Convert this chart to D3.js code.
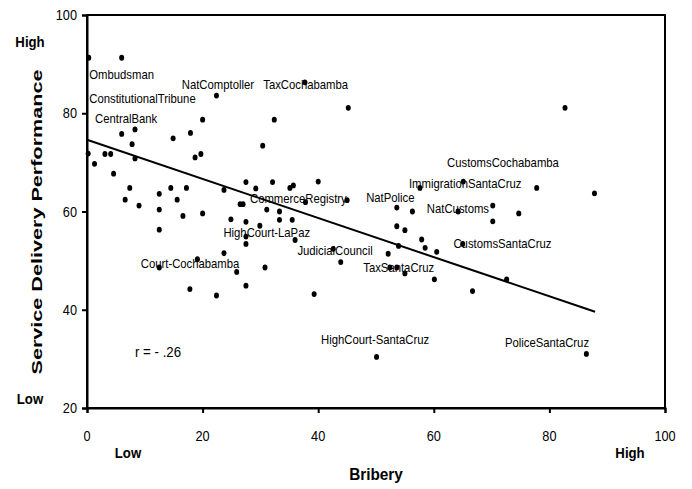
<!DOCTYPE html>
<html><head><meta charset="utf-8">
<script src="https://cdn.jsdelivr.net/npm/d3@7"></script>
<style>
html,body{margin:0;padding:0;background:#fff;}
svg{display:block;}
text{font-family:"Liberation Sans",Arial,sans-serif;fill:#000;}
</style></head>
<body>
<svg id="chart" width="692" height="489"></svg>
<script>
// Bribery (x) and Service Delivery Performance (y) per institution
const bribery = [0.3,6.0,22.4,20.0,32.4,6.0,8.3,7.8,14.9,17.9,30.4,37.7,45.2,82.7,0.2,3.1,4.1,1.3,8.3,18.7,19.7,4.6,7.4,6.6,9.0,12.5,14.5,17.2,15.6,12.5,16.6,20.0,23.7,27.5,29.2,32.1,26.5,27.0,31.1,33.3,24.9,27.5,29.9,33.3,12.5,27.5,27.5,23.7,19.1,12.5,25.9,30.8,35.1,35.7,40.0,37.8,45.0,35.5,36.0,42.6,43.9,53.6,56.3,57.6,53.6,55.0,57.9,58.5,60.5,53.9,52.1,52.4,53.6,55.0,60.1,65.1,77.8,87.8,70.2,74.7,70.2,64.2,65.0,72.6,17.8,22.4,27.5,39.3,50.1,66.7,86.4];
const performance = [91.3,91.3,83.6,78.7,78.7,75.8,76.7,73.7,74.9,76.0,73.4,86.3,81.1,81.1,71.8,71.7,71.7,69.7,70.8,71.0,71.7,67.7,64.8,62.4,61.2,63.6,64.8,64.8,62.4,60.4,59.1,59.6,64.4,66.0,64.7,66.0,61.5,61.5,60.4,60.0,58.4,57.9,57.1,58.3,56.3,54.9,53.4,51.5,50.3,48.6,47.7,48.6,64.8,65.3,66.1,61.9,62.3,58.3,54.2,52.4,49.7,60.8,60.0,64.8,57.0,56.2,54.3,52.6,51.8,53.0,51.4,48.6,48.6,47.4,46.2,66.1,64.8,63.7,61.2,59.6,58.0,60.0,53.4,46.2,44.2,42.9,44.9,43.2,30.4,43.8,31.0];
// Regression line end points
const trendX = [0, 87.9];
const trendY = [74.6, 39.6];
// Institution labels (anchored in data units)
const labelText = ["Ombudsman","NatComptoller","TaxCochabamba","ConstitutionalTribune","CentralBank","CommerceRegistry","NatPolice","HighCourt-LaPaz","JudicialCouncil","Court-Cochabamba","TaxSantaCruz","CustomsCochabamba","ImmigrationSantaCruz","NatCustoms","CustomsSantaCruz","HighCourt-SantaCruz","PoliceSantaCruz"];
const labelX = [0.4,16.4,30.5,0.4,1.4,28.2,48.3,23.6,36.4,9.3,47.8,62.3,55.7,58.8,63.4,40.5,72.3];
const labelY = [86.9,84.9,84.9,82.1,78.1,61.7,62.0,54.9,51.1,48.6,47.7,69.0,64.7,59.6,52.5,33.0,32.4];
const corrText = "r = - .26";
const xTicks = [0,20,40,60,80,100];
const yTicks = [20,40,60,80,100];

const svg = d3.select("#chart");
const x = d3.scaleLinear().domain([0,100]).range([87,665]);
const y = d3.scaleLinear().domain([20,100]).range([408,15]);

// frame
svg.append("rect").attr("x",x(0)).attr("y",y(100)).attr("width",x(100)-x(0)).attr("height",y(20)-y(100))
  .attr("fill","none").attr("stroke","#000").attr("stroke-width",2);

// axes
const xAxis = svg.append("g").attr("transform",`translate(0,${y(20)})`)
  .call(d3.axisBottom(x).tickValues(xTicks).tickSize(5).tickFormat(""));
const yAxis = svg.append("g").attr("transform",`translate(${x(0)},0)`)
  .call(d3.axisLeft(y).tickValues(yTicks).tickSize(5).tickFormat(""));
[xAxis,yAxis].forEach(a=>{a.select(".domain").attr("stroke","#000").attr("stroke-width",2);a.selectAll(".tick line").attr("stroke","#000").attr("stroke-width",2);});

// tick labels (condensed look)
svg.append("g").selectAll("text").data(xTicks).join("text")
  .attr("transform",d=>`translate(${x(d)},441) scale(0.85,1)`)
  .attr("text-anchor","middle").style("font-size","15px").text(d=>d);
svg.append("g").selectAll("text").data(yTicks).join("text")
  .attr("transform",d=>`translate(77,${y(d)+5}) scale(0.85,1)`)
  .attr("text-anchor","end").style("font-size","15px").text(d=>d);

// trend line
svg.append("line").attr("x1",x(trendX[0])).attr("y1",y(trendY[0])).attr("x2",x(trendX[1])).attr("y2",y(trendY[1]))
  .attr("stroke","#000").attr("stroke-width",2);

// points
svg.append("g").selectAll("ellipse").data(bribery).join("ellipse")
  .attr("cx",(d)=>x(d)).attr("cy",(d,i)=>y(performance[i])).attr("rx",2.5).attr("ry",2.9).attr("fill","#000");

// labels
svg.append("g").selectAll("text").data(labelText).join("text")
  .attr("transform",(d,i)=>`translate(${x(labelX[i])},${y(labelY[i])}) scale(0.87,1)`)
  .style("font-size","13px").text(d=>d);
svg.append("text").attr("transform",`translate(${x(8.3)},${y(30.3)}) scale(0.95,1)`)
  .style("font-size","14px").text(corrText);

// axis titles
svg.append("text").attr("transform","translate(376,480) scale(0.96,1)").attr("text-anchor","middle")
  .style("font-size","16px").style("font-weight","bold").text("Bribery");
svg.append("text").attr("transform","translate(42,222) rotate(-90)").attr("text-anchor","middle")
  .attr("textLength",305).attr("lengthAdjust","spacingAndGlyphs")
  .style("font-size","15px").style("font-weight","bold").text("Service Delivery Performance");
const side = [["High",30,47],["Low",30,404],["Low",128,458],["High",630,458]];
svg.append("g").selectAll("text").data(side).join("text")
  .attr("transform",d=>`translate(${d[1]},${d[2]}) scale(0.88,1)`).attr("text-anchor","middle")
  .style("font-size","15px").style("font-weight","bold").text(d=>d[0]);
</script>
</body></html>
